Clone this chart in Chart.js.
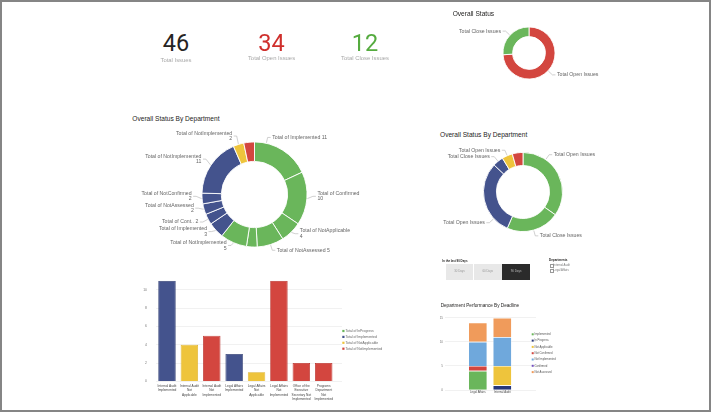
<!DOCTYPE html>
<html><head><meta charset="utf-8">
<script src="https://cdn.jsdelivr.net/npm/chart.js@4.4.1/dist/chart.umd.min.js"></script>
<style>
html,body{margin:0;padding:0;background:#fff;width:711px;height:412px;overflow:hidden;position:relative;}
#frame{position:absolute;left:0;top:0;width:707px;height:408px;border:2px solid #858585;}
canvas{position:absolute;}
.t{position:absolute;white-space:nowrap;}
</style></head><body>
<div id="frame"></div>
<canvas id="cOverall" width="180" height="76" style="left:440px;top:15px"></canvas>
<canvas id="cDept" width="280" height="140" style="left:120px;top:125px"></canvas>
<canvas id="cStatus" width="200" height="110" style="left:420px;top:140px"></canvas>
<canvas id="cBar" width="290" height="140" style="left:110px;top:270px"></canvas>
<canvas id="cStack" width="180" height="110" style="left:430px;top:300px"></canvas>
<script>
// ---------------- DATA ----------------
const kpiValues = [46, 34, 12];
const kpiLabels = ['Total Issues', 'Total Open Issues', 'Total Close Issues'];

const overallNames = ['Total Open Issues', 'Total Close Issues'];
const overallValues = [34, 12];

const deptNames = ['Total of Implemented','Total of Confirmed','Total of NotApplicable','Total of NotAssessed','Total of InProgress','Total of NotImplemented','Total of Implemented','Total of Cont..','Total of NotAssessed','Total of NotConfirmed','Total of NotImplemented','Total of NotImplemented','Total of NotImplemented'];
const deptValues = [11, 10, 4, 5, 2, 5, 3, 2, 2, 2, 11, 2, 2];
const deptGroup  = ['g','g','g','g','g','g','n','n','n','n','n','y','r'];
const deptLabelMode = ['inline','wrap','wrap','inline','none','wrap','wrap','inline','wrap','wrap','wrap','wrap','none'];

const statusNames = ['Total Open Issues','Total Close Issues','Total Open Issues','Total Close Issues','Total Open Issues','Total Open Issues'];
const statusValues = [16, 10, 14, 2, 2, 2];
const statusGroup = ['g','g','n','n','y','r'];
const statusLabelShown = [true, true, true, true, true, false];

const barCats = [['Internal Audit','Implemented'],['Internal Audit','Not','Applicable'],['Internal Audit','Not','Implemented'],['Legal Affairs','Implemented'],['Legal Affairs','Not','Applicable'],['Legal Affairs','Not','Implemented'],['Office of the','Executive','Secretary Not','Implemented'],['Programs','Department','Not','Implemented']];
const barInProgress    = [null, null, null, null, null, null, null, null];
const barImplemented   = [11, null, null, 3, null, null, null, null];
const barNotApplicable = [null, 4, null, null, 1, null, null, null];
const barNotImplemented= [null, null, 5, null, null, 11, 2, 2];
const barYTicks = [0, 2, 4, 6, 8, 10];

const deadlineCats = ['Legal Affairs', 'Internal Audit'];
const dlImplemented    = [4, null];
const dlInProgress     = [null, 1];
const dlNotApplicable  = [null, 4];
const dlNotConfirmed   = [1, null];
const dlNotImplemented = [5, 6];
const dlConfirmed      = [null, null];
const dlNotAssessed    = [4, 4];
const dlYTicks = [0, 5, 10, 15];

// ---------------- STYLE ----------------
const FONT = "'Liberation Sans', Arial, sans-serif";
const C = { g:'#6ab65b', n:'#44538d', y:'#eec43c', r:'#d3463f', lb:'#6fa8dc', o:'#f09b5b', ip:'#28377a', p:'#7450c0' };
const CB = { g:'#55a046', n:'#2f3d72', y:'#d9aa1c', r:'#b9322c' };
Chart.defaults.font.family = FONT;
Chart.defaults.animation = false;

function T(txt, x, y, size, color, o = {}) {
  const d = document.createElement('div');
  d.className = 't';
  d.textContent = txt;
  d.style.fontSize = size + 'px';
  d.style.lineHeight = size + 'px';
  d.style.color = color;
  d.style.fontFamily = o.family || FONT;
  d.style.fontWeight = o.bold ? 'bold' : 'normal';
  d.style.top = (y - size / 2) + 'px';
  if (o.align === 'center') { d.style.left = (x - 100) + 'px'; d.style.width = '200px'; d.style.textAlign = 'center'; }
  else d.style.left = x + 'px';
  document.body.appendChild(d);
  return d;
}

// KPI cards
const kpiX = [176, 271.5, 365];
const kpiColors = ['#252423', '#cf2f2c', '#55ab3f'];
const kpiLabelY = [61, 59, 59];
kpiValues.forEach((v, i) => {
  T(String(v), kpiX[i], 43.3, 23.5, kpiColors[i], { align: 'center', family: "Roboto, 'DejaVu Sans', sans-serif" });
  T(kpiLabels[i], kpiX[i], kpiLabelY[i], 5.9, '#a8a8a8', { align: 'center' });
});

// Titles
T('Overall Status', 452.7, 14.3, 6.6, '#252423');
T('Overall Status By Department', 132.3, 119, 6.6, '#252423');
T('Overall Status By Department', 440, 135, 6.6, '#252423');
T('Department Performance By Deadline', 440.7, 306.7, 4.65, '#252423');

// Slicer
T('In the last 90 Days', 442.3, 261.7, 2.9, '#252423', { bold: true });
const btns = [['30 Days', 445.7, '#e8e8e8', '#9a9a9a'], ['60 Days', 474, '#e8e8e8', '#9a9a9a'], ['90 Days', 502.3, '#2b2b2b', '#bdbdbd']];
btns.forEach(b => {
  const d = document.createElement('div');
  d.className = 't';
  d.style.cssText += `left:${b[1]}px;top:264.3px;width:27.5px;height:15.4px;background:${b[2]};color:${b[3]};font:2.9px ${FONT};line-height:15.4px;text-align:center;`;
  d.textContent = b[0];
  document.body.appendChild(d);
});
T('Departments', 549, 260.3, 3, '#252423', { bold: true });
['Internal Audit', 'Legal Affairs'].forEach((s, i) => {
  const y = 265.3 + i * 5;
  const b = document.createElement('div');
  b.className = 't';
  b.style.cssText += `left:549.5px;top:${y - 1.2}px;width:2px;height:2px;border:0.4px solid #9a9a9a;`;
  document.body.appendChild(b);
  T(s, 553.6, y, 2.8, '#777');
});

// ---------------- PLUGINS ----------------
const donutLabels = {
  id: 'donutLabels',
  afterDatasetsDraw(chart, args, o) {
    const meta = chart.getDatasetMeta(0);
    const ctx = chart.ctx;
    ctx.save();
    ctx.font = `${o.size}px ${FONT}`;
    ctx.textBaseline = 'middle';
    meta.data.forEach((arc, i) => {
      const txt = o.texts[i];
      if (!txt) return;
      const p = arc.getProps(['x', 'y', 'startAngle', 'endAngle', 'outerRadius'], true);
      const f = (o.frac && o.frac[i] != null) ? o.frac[i] : 0.5;
      const a = p.startAngle + (p.endAngle - p.startAngle) * f;
      const cs = Math.cos(a), sn = Math.sin(a);
      const lines = txt.split('\n');
      const side = cs >= 0 ? 1 : -1;
      const x0 = p.x + cs * (p.outerRadius + 0.5), y0 = p.y + sn * (p.outerRadius + 0.5);
      const x1 = p.x + cs * (p.outerRadius + o.radial), y1a = p.y + sn * (p.outerRadius + o.radial);
      const y1 = y1a - (lines.length - 1) * o.lh / 2;
      const x2 = x1 + side * o.horiz;
      ctx.strokeStyle = o.lineColor; ctx.lineWidth = 0.6;
      ctx.beginPath(); ctx.moveTo(x0, y0); ctx.lineTo(x1, y1); ctx.lineTo(x2, y1); ctx.stroke();
      ctx.fillStyle = o.color;
      ctx.textAlign = side > 0 ? 'left' : 'right';
      const tx = x2 + side * o.gap;
      const top = y1a - (lines.length - 1) * o.lh;
      lines.forEach((l, k) => ctx.fillText(l, tx, top + k * o.lh));
    });
    ctx.restore();
  }
};

const sideLegend = {
  id: 'sideLegend',
  afterDraw(chart, args, o) {
    const ctx = chart.ctx;
    ctx.save();
    ctx.font = `${o.size}px ${FONT}`;
    ctx.textBaseline = 'middle'; ctx.textAlign = 'left';
    chart.data.datasets.forEach((ds, i) => {
      const y = o.y + i * o.step;
      ctx.fillStyle = ds.backgroundColor;
      ctx.fillRect(o.x, y - o.box / 2, o.box, o.box);
      ctx.fillStyle = o.color;
      ctx.fillText(ds.label, o.x + o.box + o.gap, y);
    });
    ctx.restore();
  }
};

function donut(id, values, colors, texts, frac, pad, cutout, names) {
  return new Chart(document.getElementById(id), {
    type: 'doughnut',
    data: { labels: names, datasets: [{ data: values, backgroundColor: colors, borderColor: '#ffffff', borderWidth: 0.9, hoverOffset: 0, offset: 0 }] },
    options: {
      responsive: false, events: [], cutout: cutout,
      layout: { padding: pad },
      plugins: { legend: { display: false }, tooltip: { enabled: false },
        donutLabels: { texts, frac, size: 5.2, lh: 5.4, radial: 6, horiz: 3, gap: 1.5, color: '#666666', lineColor: '#b0b0b0' } }
    },
    plugins: [donutLabels]
  });
}

// Overall Status donut
donut('cOverall', overallValues, [C.r, C.g], overallNames, null,
  { left: 62.5, right: 64.5, top: 11.5, bottom: 11.5 }, '63%', overallNames);

// Overall status by department (left)
const deptTexts = deptNames.map((n, i) => deptLabelMode[i] === 'none' ? null : n + (deptLabelMode[i] === 'wrap' ? '\n' : ' ') + deptValues[i]);
const deptFrac = deptValues.map((v, i) => i === 0 ? 0.2 : null);
donut('cDept', deptValues, deptGroup.map(g => C[g]), deptTexts, deptFrac,
  { left: 81.5, right: 92.5, top: 16.5, bottom: 17.5 }, '63%', deptNames);

// Overall status by department (right)
const statusTexts = statusNames.map((n, i) => statusLabelShown[i] ? n : null);
const statusFrac = [0.28, null, 0.22, null, null, null];
donut('cStatus', statusValues, statusGroup.map(g => C[g]), statusTexts, statusFrac,
  { left: 63, right: 57, top: 12, bottom: 18 }, '67%', statusNames);

// ---------------- BAR CHARTS ----------------
function pts(vals) { return vals.map((v, i) => v == null ? null : { x: i, y: v }).filter(Boolean); }

new Chart(document.getElementById('cBar'), {
  type: 'bar',
  data: { datasets: [
    { label: 'Total of InProgress', data: pts(barInProgress), backgroundColor: C.g, borderColor: CB.g, borderWidth: 0.8 },
    { label: 'Total of Implemented', data: pts(barImplemented), backgroundColor: C.n, borderColor: CB.n, borderWidth: 0.8 },
    { label: 'Total of NotApplicable', data: pts(barNotApplicable), backgroundColor: C.y, borderColor: CB.y, borderWidth: 0.8 },
    { label: 'Total of NotImplemented', data: pts(barNotImplemented), backgroundColor: C.r, borderColor: CB.r, borderWidth: 0.8 }
  ]},
  options: {
    responsive: false, events: [],
    layout: { padding: { top: 7.2, right: 58, left: 0, bottom: 0 } },
    datasets: { bar: { categoryPercentage: 1, barPercentage: 0.78 } },
    plugins: { legend: { display: false }, tooltip: { enabled: false },
      sideLegend: { x: 232.3, y: 61, step: 5.9, box: 2.2, gap: 0.9, size: 3.4, color: '#666' } },
    scales: {
      x: { type: 'linear', stacked: true, min: -0.5, max: 7.817, offset: false, bounds: 'data',
        grid: { display: false, drawTicks: false, offset: false }, border: { display: false },
        afterBuildTicks: s => { s.ticks = barCats.map((c, i) => ({ value: i })); },
        ticks: { callback: v => barCats[v], font: { size: 3.2, lineHeight: 1.35 }, color: '#444', padding: 2.8, autoSkip: false, maxRotation: 0, minRotation: 0 },
        afterFit: s => { s.height = 28.7; } },
      y: { stacked: true, min: 0, max: 11,
        grid: { color: '#ebebeb', lineWidth: 0.7, drawTicks: false }, border: { display: false },
        afterBuildTicks: s => { s.ticks = barYTicks.map(v => ({ value: v })); },
        ticks: { font: { size: 3.4 }, color: '#777', padding: 8.8 },
        afterFit: s => { s.width = 45.8; } }
    }
  },
  plugins: [sideLegend]
});

new Chart(document.getElementById('cStack'), {
  type: 'bar',
  data: { datasets: [
    { label: 'Implemented', data: pts(dlImplemented), backgroundColor: C.g },
    { label: 'In Progress', data: pts(dlInProgress), backgroundColor: C.ip },
    { label: 'Not Applicable', data: pts(dlNotApplicable), backgroundColor: C.y },
    { label: 'Not Confirmed', data: pts(dlNotConfirmed), backgroundColor: C.r },
    { label: 'Not Implemented', data: pts(dlNotImplemented), backgroundColor: C.lb },
    { label: 'Confirmed', data: pts(dlConfirmed), backgroundColor: C.p },
    { label: 'Not Assessed', data: pts(dlNotAssessed), backgroundColor: C.o }
  ]},
  options: {
    responsive: false, events: [],
    layout: { padding: { top: 17.7, right: 74, left: 0, bottom: 0 } },
    datasets: { bar: { categoryPercentage: 1, barPercentage: 0.776, borderWidth: 0.7, borderColor: 'rgba(255,255,255,0.5)' } },
    plugins: { legend: { display: false }, tooltip: { enabled: false },
      sideLegend: { x: 101.7, y: 34.3, step: 6.3, box: 2, gap: 0.7, size: 2.8, color: '#555' } },
    scales: {
      x: { type: 'linear', stacked: true, min: -1.339, max: 2.376, offset: false, bounds: 'data',
        grid: { display: false, drawTicks: false, offset: false }, border: { display: false },
        afterBuildTicks: s => { s.ticks = deadlineCats.map((c, i) => ({ value: i })); },
        ticks: { callback: v => deadlineCats[v], font: { size: 2.8, lineHeight: 1.25 }, color: '#444', padding: 0.6, autoSkip: false, maxRotation: 0, minRotation: 0 },
        afterFit: s => { s.height = 20; } },
      y: { stacked: true, min: 0, max: 15,
        grid: { color: '#ebebeb', lineWidth: 0.7, drawTicks: false }, border: { display: false },
        afterBuildTicks: s => { s.ticks = dlYTicks.map(v => ({ value: v })); },
        ticks: { font: { size: 3 }, color: '#777', padding: 2 },
        afterFit: s => { s.width = 15; } }
    }
  },
  plugins: [sideLegend]
});
</script>
</body></html>
